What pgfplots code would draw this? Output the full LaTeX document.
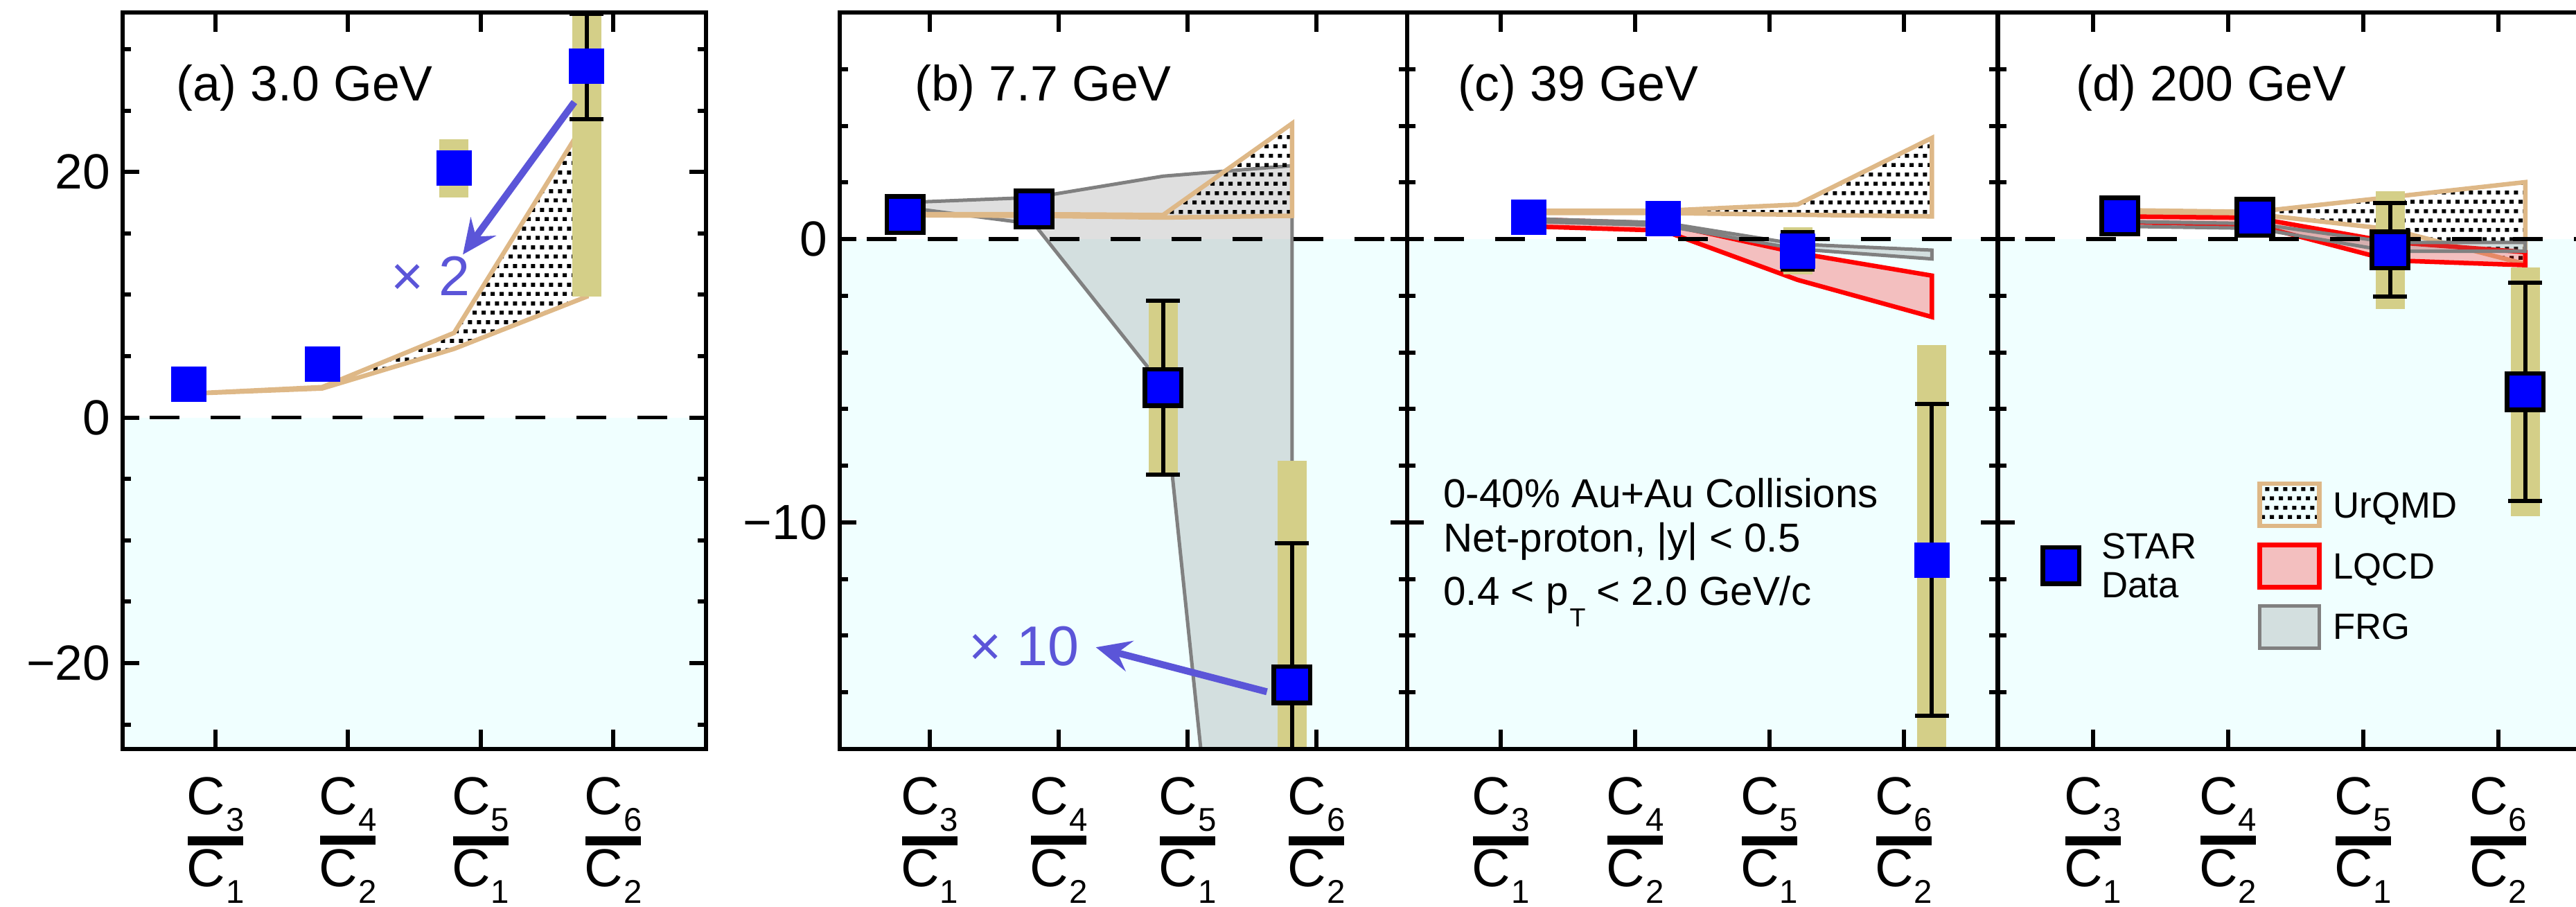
\documentclass[border=0pt]{standalone}
\usepackage{fontspec}
\setmainfont{Liberation Sans}
\usepackage{pgfplots}
\pgfplotsset{compat=1.18}
\usetikzlibrary{arrows.meta,patterns}

\definecolor{starblue}{RGB}{0,0,255}
\definecolor{syscol}{RGB}{212,207,136}
\definecolor{urqmdcol}{RGB}{222,184,135}
\definecolor{bgcyan}{RGB}{240,255,255}
\definecolor{annot}{RGB}{91,85,216}
\definecolor{frggray}{RGB}{128,128,128}

% staggered dot fill used for the UrQMD bands
\pgfdeclarepatternformonly{urdots}{\pgfpointorigin}{\pgfpoint{3.79pt}{7.59pt}}{\pgfpoint{3.79pt}{7.59pt}}{%
  \pgfpathrectangle{\pgfpoint{0pt}{0pt}}{\pgfpoint{1.8pt}{1.6pt}}%
  \pgfpathrectangle{\pgfpoint{1.9pt}{3.8pt}}{\pgfpoint{1.8pt}{1.6pt}}%
  \pgfusepath{fill}}

% cumulant ratio labels C_n / C_m with a heavy fraction bar
\newcommand{\csub}[1]{C\kern0.01cm\raisebox{-0.24cm}{\fontsize{13.5pt}{14pt}\selectfont #1}}
\newcommand{\rat}[2]{\vbox{\offinterlineskip\halign{\hfil##\hfil\cr
  \csub{#1}\cr\noalign{\kern0.07cm}
  \rule{0.8cm}{0.13cm}\cr\noalign{\kern0.06cm}
  \csub{#2}\cr}}}

\tikzset{
  lab/.style={anchor=base west, inner sep=0pt, font=\fontsize{20.4pt}{22pt}\selectfont},
  fac/.style={anchor=base west, inner sep=0pt, text=annot, font=\fontsize{23pt}{26pt}\selectfont},
  facarrow/.style={draw=annot, line width=0.1cm, -{Stealth[length=0.5cm, width=0.45cm, inset=0.18cm]}},
  legtext/.style={anchor=base west, inner sep=0pt, font=\fontsize{15pt}{17pt}\selectfont},
  infotext/.style={anchor=base west, inner sep=0pt, font=\fontsize{16.6pt}{18pt}\selectfont},
}

\pgfplotsset{
  panel/.style={
    scale only axis, height=10.63cm, xmin=0.3, xmax=4.7,
    xtick={1,2,3,4},
    xticklabels={{\rat{3}{1}},{\rat{4}{2}},{\rat{5}{1}},{\rat{6}{2}}},
    tick pos=both, tick align=inside,
    axis line style={line width=0.06cm},
    every tick/.style={line width=0.06cm, black},
    major tick length=0.24cm, minor tick length=0.12cm,
    xtick style={/pgfplots/major tick length=0.28cm},
    xticklabel style={font=\fontsize{21.9pt}{24pt}\selectfont, inner sep=0pt, anchor=north, yshift=-0.40cm},
    yticklabel style={font=\fontsize{20.3pt}{24pt}\selectfont, inner sep=0pt, anchor=east, xshift=-0.17cm},
    axis on top, clip=true,
  },
  bg/.style={draw=none, fill=bgcyan, forget plot},
  zero/.style={black, line width=0.057cm, dash pattern=on 0.43cm off 0.45cm, dash phase=0.49cm, forget plot},
  sys/.style={draw=none, mark=none, forget plot,
    error bars/.cd, y dir=both, y explicit,
    error bar style={draw=syscol, line width=0.42cm}, error mark=none},
  stat/.style={draw=none, mark=none, forget plot,
    error bars/.cd, y dir=both, y explicit,
    error bar style={draw=black, line width=0.06cm}, error mark=-,
    error mark options={rotate=90, draw=black, line width=0.06cm, mark size=0.245cm}},
  dataA/.style={only marks, mark=square*, mark size=0.25cm,
    mark options={draw=starblue, fill=starblue, line width=0pt}, forget plot},
  dataB/.style={only marks, mark=square*, mark size=0.2625cm,
    mark options={draw=black, fill=starblue, line width=0.065cm}, forget plot},
  urqmd/.style={draw=urqmdcol, line width=0.065cm, pattern=urdots, pattern color=black},
  lqcd/.style={draw=red, line width=0.065cm, fill=red, fill opacity=0.25},
  frg/.style={draw=frggray, line width=0.05cm, fill=gray, fill opacity=0.25},
}

\begin{document}
\begin{tikzpicture}

% ---------------- (a) 3.0 GeV ----------------
\begin{axis}[panel, at={(1.77cm,2.28cm)}, anchor=south west, width=8.42cm,
  ymin=-27, ymax=33, ytick={-20,0,20}, yticklabels={−20,0,20},
  minor ytick={-25,-15,-10,-5,5,10,15,25,30}]
  \addplot[bg] coordinates {(0.3,0) (4.7,0) (4.7,-27) (0.3,-27)} -- cycle;
  \addplot[urqmd, forget plot] coordinates {(0.80,1.95) (1.805,2.48) (2.80,6.9) (3.80,24.3)
     (3.80,9.85) (2.80,5.6) (1.805,2.37) (0.80,1.95)} -- cycle;
  \addplot[zero] coordinates {(0.3,0) (4.7,0)};
  \addplot[sys] coordinates {(0.80,2.73) +- (0,0.2) (1.805,4.38) +- (0,0.25)
     (2.80,20.3) +- (0,2.35) (3.80,28.6) +- (0,18.75)};
  \addplot[stat] coordinates {(0.80,2.73) +- (0,0.2) (1.805,4.38) +- (0,0.3)
     (2.80,20.3) +- (0,0.8) (3.80,28.6) +- (0,4.3)};
  \addplot[dataA] coordinates {(0.80,2.73) (1.805,4.38) (2.80,20.3) (3.80,28.6)};
  \node[lab] at (axis cs:0.70,25.8) {(a) 3.0 GeV};
  \node[fac] at (axis cs:2.32,9.95) {× 2};
  \draw[facarrow] (axis cs:3.707,25.7) -- (axis cs:2.866,13.28);
\end{axis}

% ---------------- (b) 7.7 GeV ----------------
\begin{axis}[panel, at={(12.115cm,2.28cm)}, anchor=south west, width=8.19cm,
  ymin=-18, ymax=8, ytick={-10,0}, yticklabels={−10,0},
  minor ytick={-16,-14,-12,-8,-6,-4,-2,2,4,6}]
  \addplot[bg] coordinates {(0.3,0) (4.7,0) (4.7,-18) (0.3,-18)} -- cycle;
  \addplot[frg, forget plot] coordinates {(0.81,1.29) (1.81,1.47) (2.81,2.22) (3.81,2.59)
     (3.81,-49) (2.81,-5.2) (1.81,0.53) (0.81,1.12)} -- cycle;
  \addplot[urqmd, forget plot] coordinates {(0.81,0.88) (1.81,0.88) (2.81,0.85) (3.81,4.08)
     (3.81,0.82) (2.81,0.76) (1.81,0.82) (0.81,0.84)} -- cycle;
  \addplot[zero] coordinates {(0.3,0) (4.7,0)};
  \addplot[sys] coordinates {(0.81,0.86) +- (0,0.2) (1.81,1.06) +- (0,0.2)
     (2.81,-5.24) +- (0,3.1) (3.81,-15.73) +- (0,7.9)};
  \addplot[stat] coordinates {(0.81,0.86) +- (0,0.15) (1.81,1.06) +- (0,0.15)
     (2.81,-5.24) +- (0,3.07) (3.81,-15.73) +- (0,5.0)};
  \addplot[dataB] coordinates {(0.81,0.86) (1.81,1.06) (2.81,-5.24) (3.81,-15.73)};
  \node[lab] at (axis cs:0.88,4.87) {(b) 7.7 GeV};
  \node[fac] at (axis cs:1.30,-15.06) {× 10};
  \draw[facarrow] (axis cs:3.615,-15.98) -- (axis cs:2.289,-14.41);
\end{axis}

% ---------------- (c) 39 GeV ----------------
\begin{axis}[panel, at={(20.306cm,2.28cm)}, anchor=south west, width=8.527cm,
  ymin=-18, ymax=8, ytick={-10,0}, yticklabels={\empty,\empty},
  minor ytick={-16,-14,-12,-8,-6,-4,-2,2,4,6}]
  \addplot[bg] coordinates {(0.3,0) (4.7,0) (4.7,-18) (0.3,-18)} -- cycle;
  \addplot[urqmd, forget plot] coordinates {(1.21,1.0) (2.21,1.0) (3.21,1.22) (4.21,3.57)
     (4.21,0.80) (3.21,0.86) (2.21,0.92) (1.21,0.92)} -- cycle;
  \addplot[lqcd, forget plot] coordinates {(1.21,0.70) (2.21,0.55) (3.21,-0.49) (4.21,-1.29)
     (4.21,-2.75) (3.21,-1.44) (2.21,0.30) (1.21,0.45)} -- cycle;
  \addplot[frg, forget plot] coordinates {(1.21,0.72) (2.21,0.58) (3.21,-0.18) (4.21,-0.39)
     (4.21,-0.70) (3.21,-0.35) (2.21,0.48) (1.21,0.62)} -- cycle;
  \addplot[zero] coordinates {(0.3,0) (4.7,0)};
  \addplot[sys] coordinates {(1.21,0.76) +- (0,0.15) (2.21,0.72) +- (0,0.15)
     (3.21,-0.42) +- (0,0.83) (4.21,-11.33) +- (0,7.6)};
  \addplot[stat] coordinates {(1.21,0.76) +- (0,0.1) (2.21,0.72) +- (0,0.1)
     (3.21,-0.42) +- (0,0.66) (4.21,-11.33) +- (0,5.5)};
  \addplot[dataA] coordinates {(1.21,0.76) (2.21,0.72) (3.21,-0.42) (4.21,-11.33)};
  \node[lab] at (axis cs:0.68,4.87) {(c) 39 GeV};
  \node[infotext] at (axis cs:0.569,-9.48) {0-40\% Au+Au Collisions};
  \node[infotext] at (axis cs:0.569,-11.03) {Net-proton, |y| < 0.5};
  \node[infotext] at (axis cs:0.569,-12.92) {0.4 < p\kern0.02cm\raisebox{-0.31cm}{\fontsize{10.7pt}{12pt}\selectfont T} < 2.0 GeV/c};
\end{axis}

% ---------------- (d) 200 GeV ----------------
\begin{axis}[panel, at={(28.843cm,2.28cm)}, anchor=south west, width=8.58cm,
  ymin=-18, ymax=8, ytick={-10,0}, yticklabels={\empty,\empty},
  minor ytick={-16,-14,-12,-8,-6,-4,-2,2,4,6},
  legend image code/.code={\draw[#1] (0cm,-0.305cm) rectangle (0.86cm,0.305cm);},
  legend style={at={(0.4915,0.2489)}, anchor=center, draw=none, fill=none,
    inner sep=0pt, row sep=0.21cm, nodes={inner sep=0pt},
    /tikz/every odd column/.style={column sep=0cm}}]
  \addplot[bg] coordinates {(0.3,0) (4.7,0) (4.7,-18) (0.3,-18)} -- cycle;
  \addplot[urqmd] coordinates {(1.20,1.02) (2.20,0.96) (3.20,1.48) (4.20,2.01)
     (4.20,-0.88) (3.20,0.35) (2.20,0.88) (1.20,0.92)} -- cycle;
  \addlegendentry{\mbox{}}
  \addplot[lqcd] coordinates {(1.20,0.80) (2.20,0.75) (3.20,-0.10) (4.20,-0.46)
     (4.20,-0.92) (3.20,-0.75) (2.20,0.50) (1.20,0.60)} -- cycle;
  \addlegendentry{\mbox{}}
  \addplot[frg] coordinates {(1.20,0.62) (2.20,0.55) (3.20,-0.12) (4.20,-0.12)
     (4.20,-0.43) (3.20,-0.43) (2.20,0.38) (1.20,0.45)} -- cycle;
  \addlegendentry{\mbox{}}
  \addplot[zero] coordinates {(0.3,0) (4.7,0)};
  \addplot[sys] coordinates {(1.20,0.82) +- (0,0.15) (2.20,0.76) +- (0,0.15)
     (3.20,-0.38) +- (0,2.08) (4.20,-5.39) +- (0,4.4)};
  \addplot[stat] coordinates {(1.20,0.82) +- (0,0.1) (2.20,0.76) +- (0,0.1)
     (3.20,-0.38) +- (0,1.65) (4.20,-5.39) +- (0,3.86)};
  \addplot[dataB] coordinates {(1.20,0.82) (2.20,0.76) (3.20,-0.38) (4.20,-5.39)};
  \node[lab] at (axis cs:0.87,4.87) {(d) 200 GeV};
  % legend labels
  \node[legtext] at (axis cs:2.775,-9.85) {UrQMD};
  \node[legtext] at (axis cs:2.775,-12.0) {LQCD};
  \node[legtext] at (axis cs:2.775,-14.12) {FRG};
  \node[legtext] at (axis cs:1.061,-11.29) {STAR};
  \node[legtext] at (axis cs:1.061,-12.66) {Data};
\end{axis}

% legend key for the measured points
\begin{axis}[scale only axis, at={(28.843cm,2.28cm)}, anchor=south west, width=8.58cm, height=10.63cm,
  xmin=0.3, xmax=4.7, ymin=-18, ymax=8, hide axis,
  legend image code/.code={\draw[#1] plot coordinates {(0cm,0cm)};},
  legend style={at={(0.1077,0.2492)}, anchor=center, draw=none, fill=none,
    inner sep=0pt, nodes={inner sep=0pt},
    /tikz/every odd column/.style={column sep=0cm}}]
  \addlegendimage{only marks, mark=square*, mark size=0.2625cm,
    mark options={draw=black, fill=starblue, line width=0.065cm}}
  \addlegendentry{\mbox{}}
\end{axis}

\pgfresetboundingbox
\useasboundingbox (0,0) rectangle (37.18,13.09);
\end{tikzpicture}
\end{document}
